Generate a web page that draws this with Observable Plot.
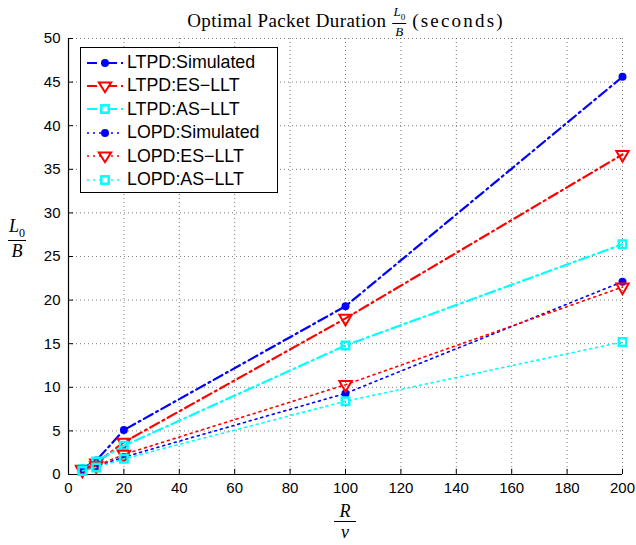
<!DOCTYPE html>
<html><head><meta charset="utf-8">
<script src="https://cdn.jsdelivr.net/npm/d3@7"></script>
<script src="https://cdn.jsdelivr.net/npm/@observablehq/plot@0.6"></script>
<style>
body{margin:0;background:#fff;}
#wrap{position:relative;width:636px;height:545px;overflow:hidden;background:#fff;}
#chart{position:absolute;left:0;top:34px;z-index:0;}
.frac{display:inline-flex;flex-direction:column;align-items:center;font-family:"Liberation Serif","DejaVu Serif",serif;font-style:italic;line-height:1;}
.frac .num{border-bottom:1.2px solid #000;padding:0 1px 1px 1px;}
.frac .den{padding-top:1px;}
#title{position:absolute;z-index:2;top:5px;left:346px;transform:translateX(-50%);white-space:nowrap;font-family:"Liberation Serif","DejaVu Serif",serif;font-size:19px;letter-spacing:0.4px;display:flex;align-items:center;gap:6px;}
#ylab{position:absolute;z-index:2;left:8px;top:217px;font-size:18px;}
#xlab{position:absolute;z-index:2;left:334px;top:502px;font-size:18px;}
#legend{position:absolute;z-index:2;left:80px;top:47px;width:198px;height:146px;border:1.5px solid #000;background:#fff;box-sizing:border-box;font-family:"Liberation Sans",Arial,sans-serif;font-size:17.8px;}
#legend .row{position:absolute;left:0;height:22px;display:flex;align-items:center;}
#legend .row span{position:absolute;left:46px;white-space:nowrap;}
#legend svg{position:absolute;left:4px;top:0;}
</style>
</head><body>
<div id="wrap">
  <div id="title"><span>Optimal Packet Duration</span>
    <span class="frac" style="font-size:13px;letter-spacing:0"><span class="num">L<sub style="font-size:9px;font-style:normal">0</sub></span><span class="den">B</span></span>
    <span style="letter-spacing:2.2px">(seconds)</span></div>
  <div id="chart"></div>
  <div id="ylab" class="frac"><span class="num">L<sub style="font-size:12px;font-style:normal">0</sub></span><span class="den">B</span></div>
  <div id="xlab" class="frac"><span class="num">&nbsp;R&nbsp;</span><span class="den">v</span></div>
  <div id="legend"></div>
</div>
<script>
const xValues = [5, 10, 20, 100, 200];
const ltpdSim = [0.7, 1.6, 5.1, 19.3, 45.6];
const ltpdES  = [0.6, 1.3, 3.7, 17.9, 36.7];
const ltpdAS  = [0.6, 1.5, 3.3, 14.8, 26.4];
const lopdSim = [0.5, 0.9, 2.0, 9.3, 22.1];
const lopdES  = [0.5, 1.0, 2.3, 10.3, 21.5];
const lopdAS  = [0.4, 0.8, 1.8, 8.4, 15.2];
const seriesNames = ["LTPD:Simulated", "LTPD:ES\u2212LLT", "LTPD:AS\u2212LLT", "LOPD:Simulated", "LOPD:ES\u2212LLT", "LOPD:AS\u2212LLT"];
const xTicks = [0, 20, 40, 60, 80, 100, 120, 140, 160, 180, 200];
const yTicks = [0, 5, 10, 15, 20, 25, 30, 35, 40, 45, 50];

const seriesValues = [ltpdSim, ltpdES, ltpdAS, lopdSim, lopdES, lopdAS];
const colors = ["#0000ff", "#ff0000", "#00ffff", "#0000ff", "#ff0000", "#00ffff"];
const dashDot = "10,4,2,4", dotted = "2,4";
const dashes = [dashDot, dashDot, dashDot, dotted, dotted, dotted];
const widths = [2.2, 2.2, 2.2, 1.6, 1.6, 1.6];
const markerKinds = ["circle", "tri", "square", "circle", "tri", "square"];

function markerOpts(kind, color) {
  if (kind === "circle") return {symbol: "circle", r: 4, fill: color, stroke: "none"};
  if (kind === "tri") return {symbol: "triangle", r: 4.6, rotate: 180, fill: "none", stroke: color, strokeWidth: 2};
  return {symbol: "square", r: 4.2, fill: "none", stroke: color, strokeWidth: 2.5};
}

const marks = [
  Plot.gridX(xTicks, {stroke: "#000", strokeOpacity: 0.5, strokeDasharray: "1,3", strokeWidth: 1}),
  Plot.gridY(yTicks, {stroke: "#000", strokeOpacity: 0.5, strokeDasharray: "1,3", strokeWidth: 1}),
  Plot.ruleX(xTicks, {x: d => d, y1: 0, y2: 0.6, stroke: "#000", strokeWidth: 1}),
  Plot.ruleY(yTicks, {y: d => d, x1: 0, x2: 1.8, stroke: "#000", strokeWidth: 1}),
  Plot.axisX({ticks: xTicks, tickSize: 0, tickPadding: 8, label: null}),
  Plot.axisY({ticks: yTicks, tickSize: 0, tickPadding: 8, label: null}),
  Plot.ruleX([0], {stroke: "#000", strokeWidth: 1.2}),
  Plot.ruleY([0], {stroke: "#000", strokeWidth: 1.2})
];
seriesValues.forEach((vals, i) => {
  const data = xValues.map((x, j) => ({x, y: vals[j]}));
  marks.push(Plot.line(data, {x: "x", y: "y", stroke: colors[i], strokeWidth: widths[i], strokeDasharray: dashes[i]}));
  marks.push(Plot.dot(data, {x: "x", y: "y", ...markerOpts(markerKinds[i], colors[i])}));
});

const chart = Plot.plot({
  width: 636, height: 511,
  marginLeft: 68, marginRight: 14, marginTop: 4, marginBottom: 71,
  x: {domain: [0, 200]},
  y: {domain: [0, 50]},
  style: {fontFamily: "'Liberation Sans', Arial, sans-serif", fontSize: "15px", color: "#000", background: "#fff", overflow: "visible"},
  marks
});
document.getElementById("chart").appendChild(chart);

// legend
const legend = d3.select("#legend");
seriesNames.forEach((name, i) => {
  const row = legend.append("div").attr("class", "row").style("top", (3.5 + 23.4 * i) + "px").style("width", "100%");
  const svg = row.append("svg").attr("width", 40).attr("height", 22);
  svg.append("line").attr("x1", 2).attr("x2", 38).attr("y1", 11).attr("y2", 11)
    .attr("stroke", colors[i]).attr("stroke-width", widths[i]).attr("stroke-dasharray", dashes[i]);
  const k = markerKinds[i];
  if (k === "circle") svg.append("circle").attr("cx", 20).attr("cy", 11).attr("r", 4).attr("fill", colors[i]);
  else if (k === "tri") svg.append("path").attr("d", "M13.8,7.4L26.2,7.4L20,17.2Z").attr("fill", "#fff").attr("stroke", colors[i]).attr("stroke-width", 2);
  else svg.append("rect").attr("x", 16.3).attr("y", 7.3).attr("width", 7.4).attr("height", 7.4).attr("fill", "#fff").attr("stroke", colors[i]).attr("stroke-width", 2.5);
  row.append("span").text(name);
});
</script>
</body></html>
